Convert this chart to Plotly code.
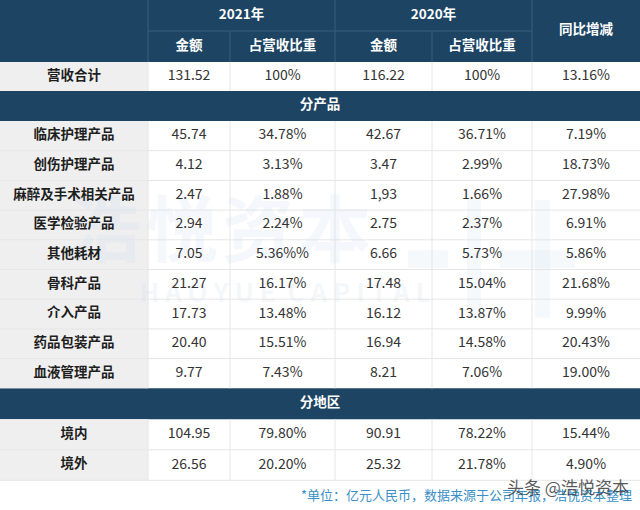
import plotly.graph_objects as go

# ---- table content ----
years = ["2021年", "2020年"]
sub_headers = ["金额", "占营收比重"]
change_header = "同比增减"

total_label = "营收合计"
total_row = ["131.52", "100%", "116.22", "100%", "13.16%"]

section_product = "分产品"
products = ["临床护理产品", "创伤护理产品", "麻醉及手术相关产品", "医学检验产品", "其他耗材",
            "骨科产品", "介入产品", "药品包装产品", "血液管理产品"]
amt_2021 = ["45.74", "4.12", "2.47", "2.94", "7.05", "21.27", "17.73", "20.40", "9.77"]
share_2021 = ["34.78%", "3.13%", "1.88%", "2.24%", "5.36%%", "16.17%", "13.48%", "15.51%", "7.43%"]
amt_2020 = ["42.67", "3.47", "1,93", "2.75", "6.66", "17.48", "16.12", "16.94", "8.21"]
share_2020 = ["36.71%", "2.99%", "1.66%", "2.37%", "5.73%", "15.04%", "13.87%", "14.58%", "7.06%"]
yoy = ["7.19%", "18.73%", "27.98%", "6.91%", "5.86%", "21.68%", "9.99%", "20.43%", "19.00%"]

section_region = "分地区"
regions = ["境内", "境外"]
reg_amt_2021 = ["104.95", "26.56"]
reg_share_2021 = ["79.80%", "20.20%"]
reg_amt_2020 = ["90.91", "25.32"]
reg_share_2020 = ["78.22%", "21.78%"]
reg_yoy = ["15.44%", "4.90%"]

footnote = "*单位：亿元人民币，数据来源于公司年报，浩悦资本整理"

# ---- layout constants ----
W, H = 640, 510
HEADER = "#1d4563"
LABEL_BG = "#efefef"
GRID = "#e6e6e6"
FONT = "Noto Sans CJK SC"
col_edges = [0, 148, 230, 335, 432, 532, 640]
col_mid = [(a + b) / 2 for a, b in zip(col_edges[:-1], col_edges[1:])]

# row heights from top: header1, header2, total, section, 9 products, section, 2 regions, footnote
row_h = [31, 31, 29, 30] + [29.7] * len(products) + [31] + [30.5] * len(regions) + [30]
row_top = [0]
for h in row_h:
    row_top.append(row_top[-1] + h)
row_mid = [(a + b) / 2 for a, b in zip(row_top[:-1], row_top[1:])]

# row indices
R_TOTAL = 2
R_SEC1 = 3
R_PROD = list(range(4, 4 + len(products)))
R_SEC2 = R_PROD[-1] + 1
R_REG = [R_SEC2 + 1 + i for i in range(len(regions))]
R_FOOT = R_REG[-1] + 1

shapes = []


def rect(x0, x1, y0, y1, color):
    shapes.append(dict(type="rect", xref="x", yref="y", x0=x0, x1=x1, y0=y0, y1=y1,
                       fillcolor=color, line=dict(width=0), layer="below"))


def line(x0, x1, y0, y1, color, width=1):
    shapes.append(dict(type="line", xref="x", yref="y", x0=x0, x1=x1, y0=y0, y1=y1,
                       line=dict(color=color, width=width), layer="below"))


# backgrounds
rect(0, W, 0, H, "white")
rect(0, W, row_top[0], row_top[2], HEADER)
for r in [R_SEC1, R_SEC2]:
    rect(0, W, row_top[r], row_top[r + 1], HEADER)
for r in [R_TOTAL] + R_PROD + R_REG:
    rect(col_edges[0], col_edges[1], row_top[r], row_top[r + 1], LABEL_BG)

# header separators
HSEP = "#3b5f7e"
line(col_edges[1], col_edges[1], 0, row_top[2], HSEP)
line(col_edges[3], col_edges[3], 0, row_top[2], HSEP)
line(col_edges[5], col_edges[5], 0, row_top[2], HSEP)
line(col_edges[2], col_edges[2], row_top[1], row_top[2], HSEP)
line(col_edges[4], col_edges[4], row_top[1], row_top[2], HSEP)
line(col_edges[1], col_edges[5], row_top[1], row_top[1], HSEP)

# body gridlines
for block in [[R_TOTAL], R_PROD, R_REG]:
    for r in block[:-1]:
        line(0, W, row_top[r + 1], row_top[r + 1], GRID)
    for c in col_edges[1:-1]:
        line(c, c, row_top[block[0]], row_top[block[-1] + 1], GRID)
line(0, W, row_top[R_FOOT], row_top[R_FOOT], GRID)

# faint logo bars of the watermark
WM = "rgba(215,228,240,0.22)"
for x0, x1, y0, y1 in [(467, 481, 200, 318), (535, 550, 200, 318), (408, 448, 250, 268), (500, 575, 250, 268)]:
    shapes.append(dict(type="rect", xref="x", yref="y", x0=x0, x1=x1, y0=y0, y1=y1,
                       fillcolor=WM, line=dict(width=0), layer="below"))

fig = go.Figure()

# faint watermark text
fig.add_trace(go.Scatter(
    x=[105, 182, 258, 335], y=[238] * 4, mode="text", text=list("浩悦资本"),
    textfont=dict(family=FONT, size=72, color="rgba(205,220,235,0.22)", weight="bold"),
    hoverinfo="skip", showlegend=False))
fig.add_trace(go.Scatter(
    x=[285], y=[295], mode="text", text=["H A O Y U E  C A P I T A L"],
    textfont=dict(family=FONT, size=26, color="rgba(205,220,235,0.22)", weight="bold"),
    hoverinfo="skip", showlegend=False))

# header text
hx, hy, ht = [], [], []
for i, y in enumerate(years):
    hx.append((col_edges[1 + 2 * i] + col_edges[3 + 2 * i]) / 2)
    hy.append(row_mid[0])
    ht.append(y)
    for j, s in enumerate(sub_headers):
        hx.append(col_mid[1 + 2 * i + j])
        hy.append(row_mid[1])
        ht.append(s)
hx.append(col_mid[5])
hy.append(row_top[1])
ht.append(change_header)
for r, t in [(R_SEC1, section_product), (R_SEC2, section_region)]:
    hx.append(W / 2)
    hy.append(row_mid[r])
    ht.append(t)
fig.add_trace(go.Scatter(x=hx, y=hy, mode="text", text=ht,
                         textfont=dict(family=FONT, size=13.5, color="white", weight="bold"),
                         hoverinfo="skip", showlegend=False))

# row labels
labels = [total_label] + products + regions
label_rows = [R_TOTAL] + R_PROD + R_REG
fig.add_trace(go.Scatter(x=[col_mid[0]] * len(labels), y=[row_mid[r] for r in label_rows],
                         mode="text", text=labels,
                         textfont=dict(family=FONT, size=13.5, color="#1e1e1e", weight="bold"),
                         hoverinfo="skip", showlegend=False))

# values
columns = [
    [total_row[0]] + amt_2021 + reg_amt_2021,
    [total_row[1]] + share_2021 + reg_share_2021,
    [total_row[2]] + amt_2020 + reg_amt_2020,
    [total_row[3]] + share_2020 + reg_share_2020,
    [total_row[4]] + yoy + reg_yoy,
]
vx, vy, vt = [], [], []
for ci, col in enumerate(columns):
    for r, v in zip(label_rows, col):
        vx.append(col_mid[ci + 1])
        vy.append(row_mid[r])
        vt.append(v)
fig.add_trace(go.Scatter(x=vx, y=vy, mode="text", text=vt,
                         textfont=dict(family=FONT, size=14, color="#333333"),
                         hoverinfo="skip", showlegend=False))

# footnote
fig.add_trace(go.Scatter(x=[632], y=[row_mid[R_FOOT] + 1], mode="text", text=[footnote],
                         textposition="middle left",
                         textfont=dict(family=FONT, size=13, color="#3a8fc6"),
                         hoverinfo="skip", showlegend=False))
# platform watermark
fig.add_trace(go.Scatter(x=[568], y=[row_mid[R_FOOT] - 6], mode="text", text=["头条 @浩悦资本"],
                         textfont=dict(family=FONT, size=17, color="rgba(60,60,60,0.85)"),
                         hoverinfo="skip", showlegend=False))

fig.update_layout(
    width=W, height=H, margin=dict(l=0, r=0, t=0, b=0),
    paper_bgcolor="white", plot_bgcolor="white", shapes=shapes,
    xaxis=dict(range=[0, W], visible=False, fixedrange=True),
    yaxis=dict(range=[H, 0], visible=False, fixedrange=True),
)

fig.write_html("out.html", config={"displayModeBar": False},
               post_script="document.body.style.margin='0';")
